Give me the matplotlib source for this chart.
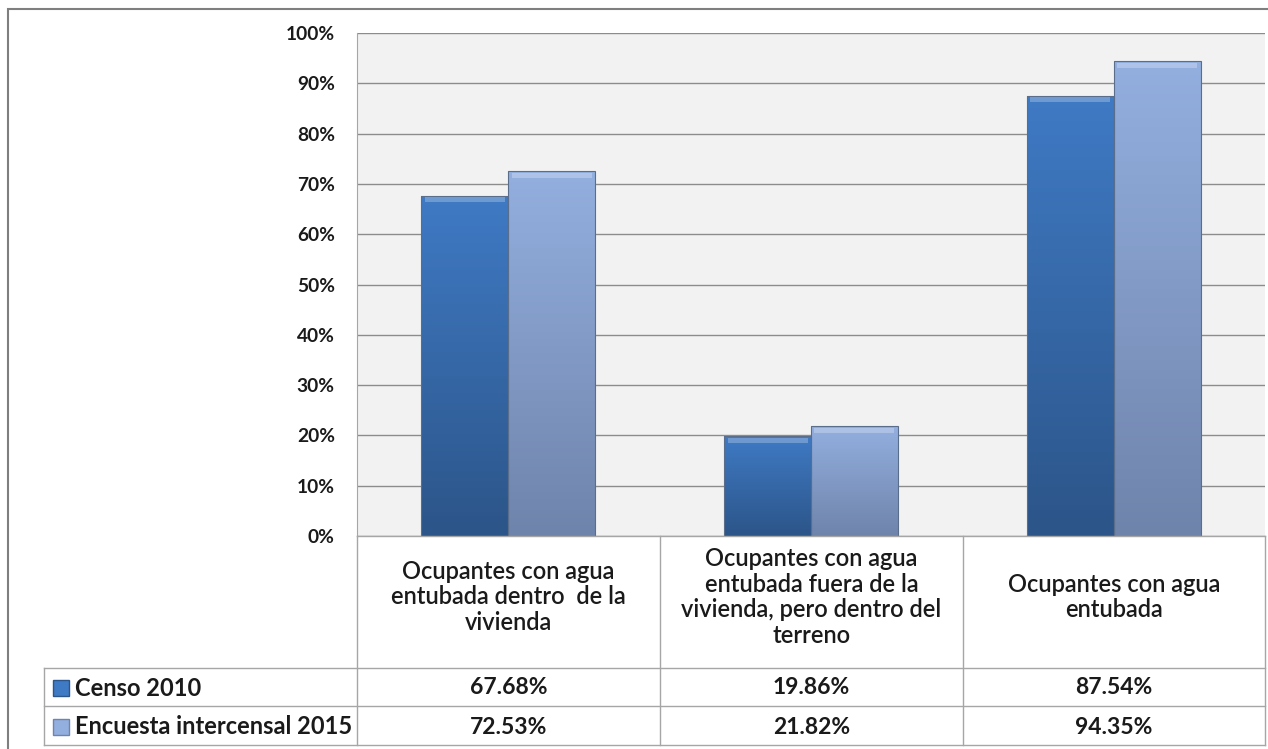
import numpy as np
import matplotlib.pyplot as plt
from matplotlib.patches import Rectangle
from matplotlib.lines import Line2D
from matplotlib.colors import to_rgb

categories = [
    "Ocupantes con agua\nentubada dentro  de la\nvivienda",
    "Ocupantes con agua\nentubada fuera de la\nvivienda, pero dentro del\nterreno",
    "Ocupantes con agua\nentubada",
]
series_names = ["Censo 2010", "Encuesta intercensal 2015"]
censo_2010 = [67.68, 19.86, 87.54]
encuesta_2015 = [72.53, 21.82, 94.35]
yticks = [0, 10, 20, 30, 40, 50, 60, 70, 80, 90, 100]

W, H = 1268, 749
plt.rcParams['font.family'] = ['Lato', 'DejaVu Sans']
fig = plt.figure(figsize=(W / 100, H / 100), dpi=100, facecolor='white')


def fx(px):
    return px / W


def fy(py):
    return 1 - py / H


# plot area: x 357..1265, y 33..536 (pixels)
ax = fig.add_axes([fx(357), fy(536), fx(1265) - fx(357), fy(33) - fy(536)])
ax.set_facecolor('#F2F2F2')
ax.set_yticks(yticks)
ax.set_yticklabels([f"{t}%" for t in yticks], fontsize=13.8, fontweight='bold', color='#1a1a1a')
ax.tick_params(axis='y', length=0, pad=16)
ax.set_xticks([])
ax.yaxis.grid(True, color='#8c8c8c', linewidth=1)
ax.set_axisbelow(True)
for side in ['top', 'right', 'bottom']:
    ax.spines[side].set_visible(False)
ax.spines['left'].set_color('#a6a6a6')

x = np.arange(len(categories))
bw = 0.287
colors = [('#3F7AC4', '#2C5589'), ('#93AFDF', '#6F84AB')]
for vals, off, (ctop, cbot) in zip([censo_2010, encuesta_2015], [-bw / 2, bw / 2], colors):
    bars = ax.bar(x + off, vals, bw, color='none', edgecolor='#5a6e8c', linewidth=0.8, zorder=3)
    c1 = np.array(to_rgb(ctop))
    c2 = np.array(to_rgb(cbot))
    for b in bars:
        x0, w, h = b.get_x(), b.get_width(), b.get_height()
        t = np.linspace(0, 1, 100)[:, None, None]
        grad = np.repeat(c1 * (1 - t) + c2 * t, 2, axis=1)
        im = ax.imshow(grad, extent=[x0, x0 + w, 0, h], aspect='auto', zorder=2, origin='upper')
        im.set_clip_path(Rectangle((x0, 0), w, h, transform=ax.transData))
        # bevel highlight at top
        ax.add_patch(Rectangle((x0 + w * 0.04, h - 1.3), w * 0.92, 1.0,
                               facecolor='white', alpha=0.25, edgecolor='none', zorder=4))
ax.set_xlim(-0.5, 2.5)
ax.set_ylim(0, 100)

# outer frame
fig.add_artist(Rectangle((fx(8), fy(760)), fx(1275) - fx(8), fy(9) - fy(760),
                         transform=fig.transFigure, fill=False, edgecolor='#7f7f7f', linewidth=1.5))

# data table
lc = '#a6a6a6'
cols = [357, 660, 963, 1265]


def hline(y, x0, x1):
    fig.add_artist(Line2D([fx(x0), fx(x1)], [fy(y), fy(y)], color=lc, linewidth=1))


def vline(xp, y0, y1):
    fig.add_artist(Line2D([fx(xp), fx(xp)], [fy(y0), fy(y1)], color=lc, linewidth=1))


hline(536, 357, 1265)
hline(668, 44, 1265)
hline(706, 44, 1265)
hline(745, 44, 1265)
for c in cols:
    vline(c, 536, 745)
vline(44, 668, 745)

for i, cat in enumerate(categories):
    cx = (cols[i] + cols[i + 1]) / 2
    fig.text(fx(cx), fy(597), cat, ha='center', va='center', fontsize=17,
             color='#1a1a1a', linespacing=1.14, fontweight='semibold')

row_y = [688, 727]
for r, (name, vals) in enumerate(zip(series_names, [censo_2010, encuesta_2015])):
    ctop, cbot = colors[r]
    fig.add_artist(Rectangle((fx(53), fy(row_y[r] + 8)), fx(16), fx(16) * W / H,
                             transform=fig.transFigure, facecolor=ctop, edgecolor=cbot, linewidth=1))
    fig.text(fx(75), fy(row_y[r]), name, ha='left', va='center', fontsize=17,
             fontweight='bold', color='#1a1a1a')
    for i, v in enumerate(vals):
        cx = (cols[i] + cols[i + 1]) / 2
        fig.text(fx(cx), fy(row_y[r]), f"{v:.2f}%", ha='center', va='center', fontsize=16.5,
                 fontweight='bold', color='#1a1a1a')

fig.savefig('out.png', dpi=100, facecolor='white')
